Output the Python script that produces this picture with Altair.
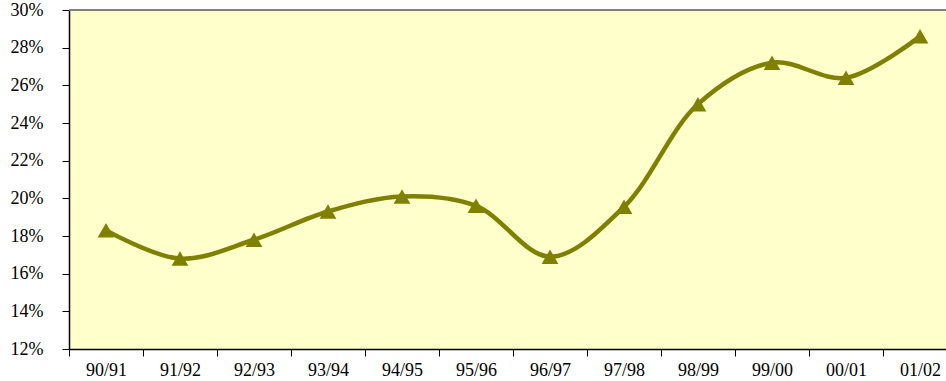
import altair as alt
import pandas as pd

seasons = ["90/91", "91/92", "92/93", "93/94", "94/95", "95/96",
           "96/97", "97/98", "98/99", "99/00", "00/01", "01/02"]
values = [18.3, 16.8, 17.8, 19.3, 20.1, 19.6, 16.9, 19.55, 25.0, 27.2, 26.4, 28.6]

df = pd.DataFrame({"season": seasons, "value": values})

FONT = "Liberation Serif"
OLIVE = "#808000"

x = alt.X("season:N", sort=seasons, title=None,
          scale=alt.Scale(paddingInner=0, paddingOuter=0, range=[0, 888]),
          axis=alt.Axis(labelAngle=0, tickBand="extent", tickSize=7,
                        tickColor="black", domainColor="black", domainWidth=1.5,
                        labelFont=FONT, labelFontSize=18, labelColor="black",
                        labelPadding=5, grid=False))
y = alt.Y("value:Q", title=None,
          scale=alt.Scale(domain=[12, 30], nice=False, zero=False),
          axis=alt.Axis(values=list(range(12, 31, 2)), labelExpr="datum.value + '%'",
                        tickSize=7, tickColor="black", domainColor="black", domainWidth=1.5,
                        labelFont=FONT, labelFontSize=18, labelColor="black",
                        labelPadding=19, grid=False))

top_border = alt.Chart(df).mark_rule(color="#808080", strokeWidth=2).encode(
    x=alt.value(0), x2=alt.value(877), y=alt.value(0))
line = alt.Chart(df).mark_line(color=OLIVE, strokeWidth=4.5, interpolate="catmull-rom").encode(x=x, y=y)
pts = alt.Chart(df).mark_point(shape="triangle-up", filled=True, color=OLIVE, size=280, opacity=1).encode(x=x, y=y)

chart = (top_border + line + pts).properties(
    width=877, height=339,
    autosize=alt.AutoSizeParams(type="none"),
    padding={"left": 69, "top": 10, "right": 0, "bottom": 32},
    background="white",
).configure_view(fill="#FFFFCC", stroke=None)

chart.save("out.html", embed_options={"renderer": "svg", "actions": False})
